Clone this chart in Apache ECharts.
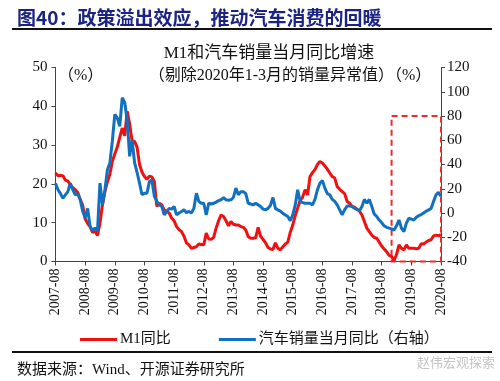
<!DOCTYPE html>
<html>
<head>
<meta charset="utf-8">
<script src="https://cdn.jsdelivr.net/npm/echarts@6/dist/echarts.min.js"></script>
<style>
html,body{margin:0;padding:0;background:#fff;}
#c{width:500px;height:381px;}
</style>
</head>
<body>
<div id="c"></div>
<script>
// Monthly categories 2007-08 .. 2020-08
const categories = [];
for (let y = 2007; y <= 2020; y++) {
  for (let m = 1; m <= 12; m++) {
    if ((y === 2007 && m < 8) || (y === 2020 && m > 8)) continue;
    categories.push(y + '-' + (m < 10 ? '0' + m : '' + m));
  }
}

// M1 YoY (%), left axis
const m1Yoy = [
  22.8,22.1,22.2,22.1,21.0,20.7,19.8,19.0,18.5,17.8,16.0,14.5,
  11.0,9.8,9.0,7.5,7.8,6.7,9.9,14.6,18.0,20.5,22.5,25.8,
  27.7,29.5,32.0,34.4,32.4,38.7,35.5,31.0,31.0,29.5,25.0,23.0,
  21.9,21.2,22.0,21.8,20.6,14.2,15.0,14.6,13.3,12.9,12.5,11.2,
  10.5,9.0,8.2,7.7,6.5,4.8,4.3,3.4,3.6,3.8,4.5,4.4,
  4.3,7.3,5.8,5.7,6.2,8.6,10.5,12.0,11.6,10.5,9.2,10.3,
  9.6,9.4,9.4,9.0,8.8,8.1,6.4,6.0,6.0,6.1,8.8,6.5,
  5.7,4.8,3.6,3.2,3.1,4.8,3.4,3.0,3.8,4.5,5.0,7.5,
  9.4,11.8,13.8,15.7,16.6,18.5,17.2,21.9,22.9,23.7,25.0,25.8,
  25.4,24.6,23.8,22.8,21.9,21.5,19.3,18.6,18.0,17.5,15.5,15.0,
  14.2,14.0,13.5,13.0,12.0,10.3,8.6,7.7,6.8,6.2,6.0,5.0,
  4.0,3.2,2.5,1.6,1.3,0.2,1.8,4.3,3.4,3.0,4.3,3.4,
  3.4,3.4,3.3,3.4,4.6,4.5,5.0,5.4,5.6,6.6,6.8,6.6,
  6.9
];

// Auto sales monthly YoY (%), right axis
const autoYoy = [
  24.6,19.2,16.0,12.2,15.0,17.6,24.6,19.2,15.0,16.0,10.9,1.6,
  -4.2,3.8,-11.2,-14.1,-12.5,-14.4,24.6,6.7,19.2,35.5,41.3,59.2,
  81.3,78.4,71.4,95.0,91.2,77.1,46.7,60.5,41.6,33.6,24.6,15.0,
  16.3,16.3,25.9,27.2,13.8,9.6,6.7,5.4,-1.6,1.3,3.8,3.2,
  5.4,-1.6,0.0,1.3,2.6,0.3,1.3,0.0,3.8,16.3,9.6,8.0,
  8.0,-1.6,8.0,7.4,8.0,9.0,10.2,10.9,12.8,10.9,10.6,10.9,
  12.8,20.5,15.0,17.6,17.6,16.0,8.0,7.4,6.7,8.0,6.7,5.4,
  3.2,2.6,3.8,6.4,12.8,3.8,2.6,1.6,-0.3,-1.6,-2.9,-6.4,
  -1.6,6.4,19.2,9.6,8.6,8.0,8.0,8.0,6.7,11.2,19.2,24.6,
  26.9,20.5,16.0,15.0,11.2,9.6,6.7,2.6,-1.6,2.6,5.8,5.8,
  5.4,3.8,2.9,1.9,5.4,11.2,8.0,11.2,5.4,-1.0,-2.9,-5.8,
  -8.0,-10.6,-11.8,-12.5,-13.1,-14.1,-10.6,-5.8,-12.5,-15.4,-8.3,-4.2,
  -5.1,-5.8,-3.5,-2.2,-1.3,0.0,1.6,2.6,3.8,9.6,15.0,17.0,
  13.8
];

const leftTicks = { min: 0, max: 50, interval: 10 };
const rightTicks = { min: -40, max: 120, interval: 20 };
const boxRange = [['2018-12', 80], ['2020-08', -40]];

const serif = '"Liberation Serif","Times New Roman","Noto Sans CJK SC",serif';
const cjk = '"Liberation Serif","Noto Sans CJK SC",serif';

const chart = echarts.init(document.getElementById('c'), null, { renderer: 'canvas' });
chart.setOption({
  animation: false,
  backgroundColor: '#fff',
  title: [
    { text: '图40：政策溢出效应，推动汽车消费的回暖', left: 12, top: 3,
      textStyle: { color: '#1c2483', fontSize: 19, fontWeight: 'bold', fontFamily: '"Noto Sans CJK SC",sans-serif' } },
    { text: 'M1和汽车销量当月同比增速', left: 264, top: 40, textAlign: 'center',
      textStyle: { color: '#111', fontSize: 17, fontWeight: 'normal', fontFamily: cjk } },
    { text: '（剔除2020年1-3月的销量异常值）（%）', left: 285, top: 63, textAlign: 'center',
      textStyle: { color: '#111', fontSize: 16, fontWeight: 'normal', fontFamily: cjk } },
    { text: '（%）', left: 53, top: 63,
      textStyle: { color: '#111', fontSize: 16, fontWeight: 'normal', fontFamily: cjk } },
    { text: '数据来源：Wind、开源证券研究所', left: 12, top: 358,
      textStyle: { color: '#111', fontSize: 15, fontWeight: 'normal', fontFamily: cjk } },
    { text: '赵伟宏观探索', left: 412, top: 351,
      textStyle: { color: '#c4c4c4', fontSize: 13, fontWeight: 'normal', fontFamily: '"Noto Sans CJK SC",sans-serif' } }
  ],
  graphic: [
    { type: 'line', shape: { x1: 12, y1: 29, x2: 492, y2: 29 }, style: { stroke: '#111', lineWidth: 2 } },
    { type: 'line', shape: { x1: 12, y1: 352, x2: 492, y2: 352 }, style: { stroke: '#111', lineWidth: 2 } }
  ],
  legend: {
    left: 75, top: 327,
    itemWidth: 37, itemHeight: 3, itemGap: 48,
    icon: 'rect',
    textStyle: { fontSize: 15, color: '#111', fontFamily: cjk, padding: [0, 0, 0, -2] },
    data: ['M1同比', '汽车销量当月同比（右轴）']
  },
  grid: { left: 55.5, right: 59, top: 67.5, bottom: 119.5, containLabel: false },
  xAxis: {
    type: 'category',
    data: categories,
    boundaryGap: false,
    axisLine: { lineStyle: { color: '#444', width: 1 } },
    axisTick: { interval: 11, length: 4, lineStyle: { color: '#444' } },
    axisLabel: { interval: 11, rotate: 90, fontSize: 14, color: '#111', fontFamily: serif, margin: 7 },
    splitLine: { show: false }
  },
  yAxis: [
    {
      type: 'value', min: leftTicks.min, max: leftTicks.max, interval: leftTicks.interval,
      axisLine: { show: true, lineStyle: { color: '#444' } },
      axisTick: { show: true, length: 4, lineStyle: { color: '#444' } },
      axisLabel: { fontSize: 15, color: '#111', fontFamily: serif, margin: 8 },
      splitLine: { show: false }
    },
    {
      type: 'value', min: rightTicks.min, max: rightTicks.max, interval: rightTicks.interval,
      position: 'right',
      axisLine: { show: true, lineStyle: { color: '#444' } },
      axisTick: { show: true, length: 4, lineStyle: { color: '#444' } },
      axisLabel: { fontSize: 15, color: '#111', fontFamily: serif, margin: 6 },
      splitLine: { show: false }
    }
  ],
  series: [
    {
      name: 'M1同比', type: 'line', yAxisIndex: 0, data: m1Yoy,
      showSymbol: false, symbol: 'none',
      lineStyle: { color: '#f01010', width: 3 }, itemStyle: { color: '#f01010' }, z: 3
    },
    {
      name: '汽车销量当月同比（右轴）', type: 'line', yAxisIndex: 1, data: autoYoy,
      showSymbol: false, symbol: 'none',
      lineStyle: { color: '#1170bf', width: 3 }, itemStyle: { color: '#1170bf' }, z: 4,
      markArea: {
        silent: true,
        itemStyle: { color: 'rgba(0,0,0,0)', borderColor: '#ee2a2a', borderWidth: 2, borderType: [6, 4] },
        data: [[{ coord: boxRange[0] }, { coord: boxRange[1] }]]
      }
    }
  ]
});
</script>
</body>
</html>
